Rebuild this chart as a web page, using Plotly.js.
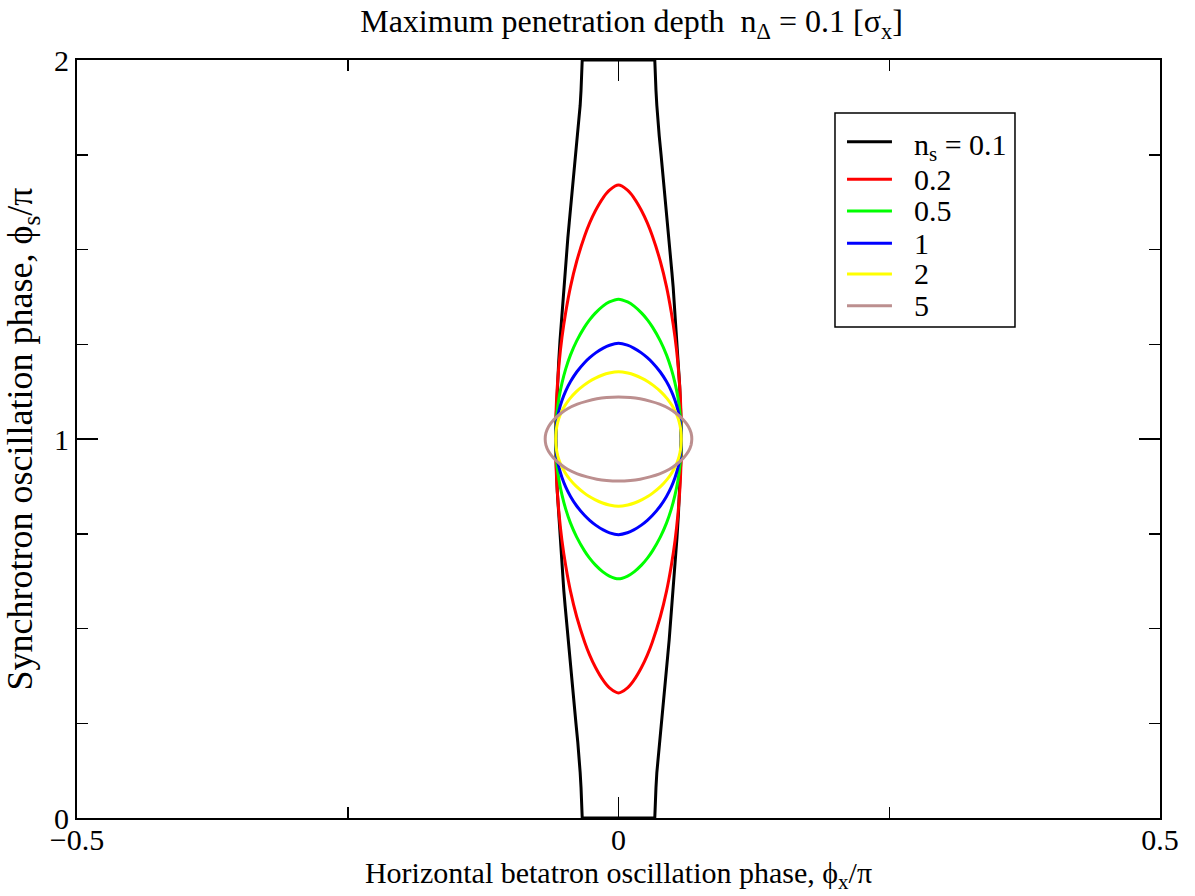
<!DOCTYPE html>
<html>
<head>
<meta charset="utf-8">
<script src="https://cdn.plot.ly/plotly-3.0.1.min.js"></script>
<style>
  html, body { margin: 0; padding: 0; background: #ffffff; }
  #chart { width: 1195px; height: 896px; }
</style>
</head>
<body>
<div id="chart"></div>
<script>
// ---- Data: y = phi_s/pi (top -> bottom), w = |phi_x/pi| half-width of each contour ----
const seriesNames = ['n<sub>s</sub> = 0.1', '0.2', '0.5', '1', '2', '5'];
const seriesColors = ['#000000', '#ff0000', '#00ff00', '#0000ff', '#ffff00', '#bc8f8f'];

// n_s = 0.1
const yNs01 = [2.00, 1.96, 1.92, 1.88, 1.84, 1.80, 1.75, 1.70, 1.66, 1.62, 1.57, 1.53, 1.49, 1.44, 1.40, 1.36, 1.32, 1.26, 1.20, 1.14, 1.08, 1.04, 1.00,
               0.96, 0.92, 0.86, 0.80, 0.74, 0.68, 0.64, 0.60, 0.56, 0.51, 0.47, 0.43, 0.38, 0.34, 0.30, 0.25, 0.20, 0.16, 0.12, 0.08, 0.04, 0.00];
const wNs01 = [0.0335, 0.0339, 0.0346, 0.0354, 0.0363, 0.0376, 0.0393, 0.0410, 0.0425, 0.0438, 0.0455, 0.0468, 0.0480, 0.0493, 0.0505, 0.0515, 0.0525, 0.0540, 0.0553, 0.0565, 0.0573, 0.0578, 0.0580,
               0.0578, 0.0573, 0.0565, 0.0553, 0.0540, 0.0525, 0.0515, 0.0505, 0.0493, 0.0480, 0.0468, 0.0455, 0.0438, 0.0425, 0.0410, 0.0393, 0.0376, 0.0363, 0.0354, 0.0346, 0.0339, 0.0335];

// n_s = 0.2
const yNs02 = [1.670, 1.6566, 1.6365, 1.603, 1.5695, 1.536, 1.469, 1.402, 1.335, 1.268, 1.201, 1.134, 1.067, 1.000,
               0.933, 0.866, 0.799, 0.732, 0.665, 0.598, 0.531, 0.464, 0.4305, 0.397, 0.3635, 0.3434, 0.330];
const wNs02 = [0.0000, 0.0083, 0.0142, 0.0212, 0.0267, 0.0312, 0.0386, 0.0443, 0.0487, 0.0522, 0.0548, 0.0566, 0.0577, 0.0580,
               0.0577, 0.0566, 0.0548, 0.0522, 0.0487, 0.0443, 0.0386, 0.0312, 0.0267, 0.0212, 0.0142, 0.0083, 0.0000];

// n_s = 0.5
const yNs05 = [1.369, 1.3616, 1.3506, 1.3321, 1.3137, 1.2952, 1.2583, 1.2214, 1.1845, 1.1476, 1.1107, 1.0738, 1.0369, 1.000,
               0.9631, 0.9262, 0.8893, 0.8524, 0.8155, 0.7786, 0.7417, 0.7048, 0.6863, 0.6679, 0.6494, 0.6384, 0.631];
const wNs05 = [0.0000, 0.0084, 0.0144, 0.0214, 0.0269, 0.0314, 0.0387, 0.0444, 0.0488, 0.0522, 0.0548, 0.0566, 0.0577, 0.0580,
               0.0577, 0.0566, 0.0548, 0.0522, 0.0488, 0.0444, 0.0387, 0.0314, 0.0269, 0.0214, 0.0144, 0.0084, 0.0000];

// n_s = 1
const yNs1 = [1.2525, 1.2475, 1.2399, 1.2273, 1.2146, 1.202, 1.1768, 1.1515, 1.1263, 1.101, 1.0758, 1.0505, 1.0253, 1.000,
              0.9747, 0.9495, 0.9242, 0.899, 0.8737, 0.8485, 0.8232, 0.798, 0.7854, 0.7727, 0.7601, 0.7525, 0.7475];
const wNs1 = [0.0000, 0.0082, 0.0141, 0.0211, 0.0266, 0.0312, 0.0386, 0.0443, 0.0488, 0.0523, 0.0549, 0.0567, 0.0577, 0.0580,
              0.0577, 0.0567, 0.0549, 0.0523, 0.0488, 0.0443, 0.0386, 0.0312, 0.0266, 0.0211, 0.0141, 0.0082, 0.0000];

// n_s = 2
const yNs2 = [1.1777, 1.1741, 1.1688, 1.1599, 1.1510, 1.1422, 1.1244, 1.1066, 1.0889, 1.0711, 1.0533, 1.0355, 1.0178, 1.000,
              0.9822, 0.9645, 0.9467, 0.9289, 0.9111, 0.8934, 0.8756, 0.8578, 0.849, 0.8401, 0.8312, 0.8259, 0.8223];
const wNs2 = [0.0000, 0.0086, 0.0147, 0.0218, 0.0273, 0.0318, 0.0392, 0.0449, 0.0493, 0.0527, 0.0552, 0.0568, 0.0577, 0.0580,
              0.0577, 0.0568, 0.0552, 0.0527, 0.0493, 0.0449, 0.0392, 0.0318, 0.0273, 0.0218, 0.0147, 0.0086, 0.0000];

// n_s = 5
const yNs5 = [1.111, 1.1095, 1.106, 1.100, 1.092, 1.080, 1.066, 1.050, 1.033, 1.016, 1.000,
              0.984, 0.967, 0.950, 0.934, 0.920, 0.908, 0.900, 0.894, 0.8905, 0.889];
const wNs5 = [0.000, 0.011, 0.020, 0.029, 0.038, 0.047, 0.054, 0.060, 0.0645, 0.067, 0.0677,
              0.067, 0.0645, 0.060, 0.054, 0.047, 0.038, 0.029, 0.020, 0.011, 0.000];

const xTickVals = [-0.5, 0, 0.5];
const yTickVals = [0, 1, 2];

// ---- Contour assembly: right side (top->bottom) then mirrored left side (bottom->top) ----
function loopPoints(ys, ws) {
  const px = [], py = [];
  for (let i = 0; i < ys.length; i++) { px.push(ws[i]); py.push(ys[i]); }
  for (let i = ys.length - 1; i >= 0; i--) {
    if (i === ys.length - 1 && ws[i] === 0) continue;   // bottom point already present
    if (i === 0 && ws[i] === 0) continue;               // top point already present
    px.push(-ws[i]); py.push(ys[i]);
  }
  return { px, py };
}
// Box-like contour (n_s = 0.1): straight closing edges at phi_s = 0 and 2
function boxContour(ys, ws) {
  const L = loopPoints(ys, ws);
  return { x: L.px.concat([L.px[0]]), y: L.py.concat([L.py[0]]) };
}
// Smooth closed contour: start at the widest right-side point and wrap one point past the start
function smoothContour(ys, ws) {
  const L = loopPoints(ys, ws);
  const m = L.px.length;
  let s = 0;
  for (let i = 0; i < ys.length; i++) if (ws[i] > ws[s]) s = i;
  const x = [], y = [];
  for (let k = 0; k <= m + 1; k++) { const j = (s + k) % m; x.push(L.px[j]); y.push(L.py[j]); }
  return { x, y };
}

const curveY = [yNs01, yNs02, yNs05, yNs1, yNs2, yNs5];
const curveW = [wNs01, wNs02, wNs05, wNs1, wNs2, wNs5];

const FONT = 'Liberation Serif, Times New Roman, serif';

const traces = curveY.map((ys, k) => {
  const c = k === 0 ? boxContour(ys, curveW[k]) : smoothContour(ys, curveW[k]);
  return {
    type: 'scatter', mode: 'lines',
    x: c.x, y: c.y,
    name: seriesNames[k],
    line: { color: seriesColors[k], width: 3, shape: k === 0 ? 'linear' : 'spline', smoothing: 1 },
    showlegend: false,
    hoverinfo: 'skip'
  };
});

// ---- Legend box drawn as in the reference ----
const legendBox = { x0: 0.6999, x1: 0.8661, y0: 0.6478, y1: 0.930 };
const legendRowY = [0.8922, 0.8426, 0.8008, 0.7582, 0.7177, 0.6759];
const shapes = [{
  type: 'rect', xref: 'paper', yref: 'paper',
  x0: legendBox.x0, x1: legendBox.x1, y0: legendBox.y0, y1: legendBox.y1,
  line: { color: '#000000', width: 1.5 }, fillcolor: 'rgba(255,255,255,1)', layer: 'above'
}];
const annotations = [];
seriesNames.forEach((nm, k) => {
  shapes.push({
    type: 'line', xref: 'paper', yref: 'paper',
    x0: 0.711, x1: 0.7525, y0: legendRowY[k], y1: legendRowY[k],
    line: { color: seriesColors[k], width: 3 }, layer: 'above'
  });
  annotations.push({
    xref: 'paper', yref: 'paper', x: 0.771, y: legendRowY[k],
    xanchor: 'left', yanchor: 'middle', showarrow: false,
    yshift: k === 0 ? -5 : 0,
    text: nm, font: { family: FONT, size: 30, color: '#000000' }
  });
});

const axisCommon = {
  showgrid: false, zeroline: false,
  showline: true, linecolor: '#000000', linewidth: 2,
  mirror: 'allticks',
  ticks: 'inside', ticklen: 21, tickwidth: 1.5, tickcolor: '#000000',
  tickfont: { family: FONT, size: 30, color: '#000000' },
  tickmode: 'array',
  fixedrange: true
};

const layout = {
  width: 1195, height: 896,
  paper_bgcolor: '#ffffff', plot_bgcolor: '#ffffff',
  margin: { l: 77, r: 35, t: 60, b: 78 },
  font: { family: FONT, size: 30, color: '#000000' },
  title: {
    text: 'Maximum penetration depth\u00a0 n<sub>\u0394</sub> = 0.1 [\u03c3<sub>x</sub>]',
    font: { family: FONT, size: 32, color: '#000000' },
    x: 0.512, xref: 'paper', xanchor: 'center',
    y: 0.977, yref: 'container', yanchor: 'middle'
  },
  xaxis: Object.assign({}, axisCommon, {
    range: [-0.5, 0.5],
    tickvals: xTickVals,
    ticklabelstandoff: -6,
    minor: { dtick: 0.25, tick0: 0, ticks: 'inside', ticklen: 11, tickwidth: 1.5, tickcolor: '#000000', showgrid: false },
    title: { text: 'Horizontal betatron oscillation phase, \u03d5<sub>x</sub>/\u03c0',
             font: { family: FONT, size: 30, color: '#000000' }, standoff: 0 }
  }),
  yaxis: Object.assign({}, axisCommon, {
    range: [0, 2],
    tickvals: yTickVals,
    ticklabelstandoff: 0,
    minor: { dtick: 0.25, tick0: 0, ticks: 'inside', ticklen: 11, tickwidth: 1.5, tickcolor: '#000000', showgrid: false },
    title: { text: 'Synchrotron oscillation phase, \u03d5<sub>s</sub>/\u03c0',
             font: { family: FONT, size: 36, color: '#000000' }, standoff: 13 }
  }),
  shapes: shapes,
  annotations: annotations,
  showlegend: false
};

Plotly.newPlot('chart', traces, layout, { staticPlot: true, displayModeBar: false });
</script>
</body>
</html>
